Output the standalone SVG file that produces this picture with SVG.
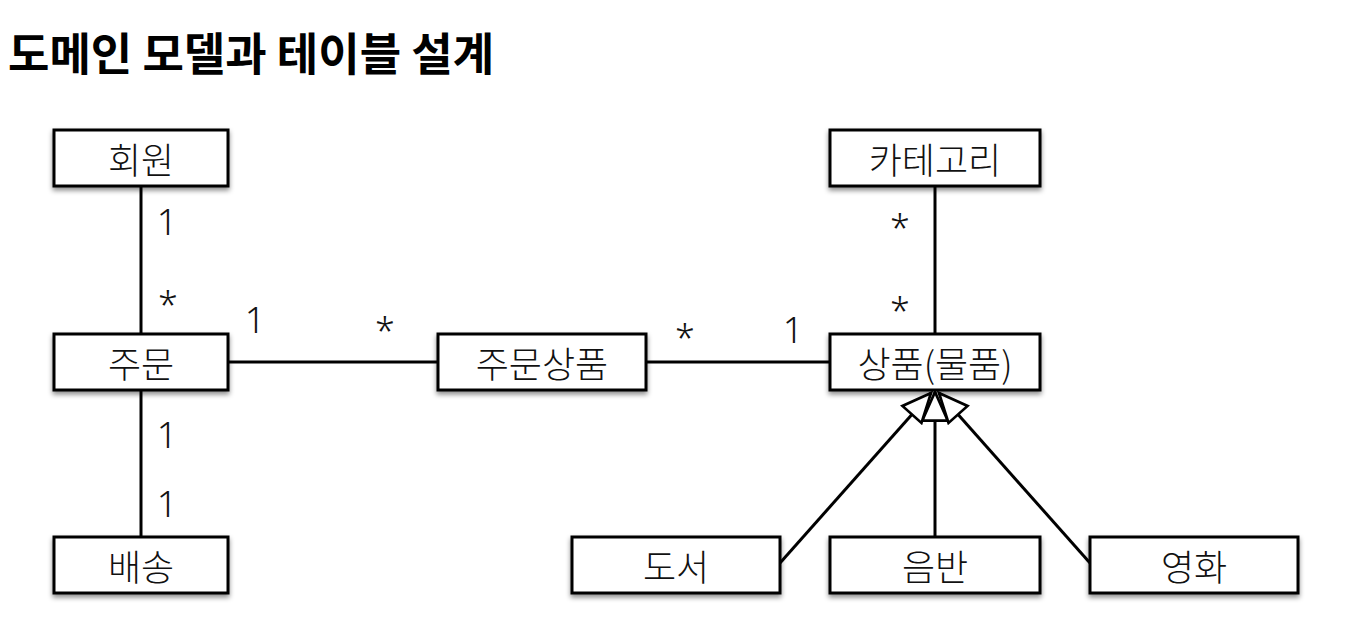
<svg xmlns="http://www.w3.org/2000/svg" width="1358" height="644" viewBox="0 0 1358 644">
<style>
.box rect{fill:#fff;stroke:#000;stroke-width:3;filter:url(#sh)}
.box text{font-family:"Noto Sans CJK KR","Noto Sans",sans-serif;font-size:36px;font-weight:300;fill:#111;text-anchor:middle;dominant-baseline:central}
.lbl{font-family:"Noto Sans","Noto Sans CJK KR",sans-serif;font-size:36px;font-weight:300;fill:#111;text-anchor:middle}
#connectors line{stroke:#000;stroke-width:3;fill:none}
.title{font-family:"Noto Sans CJK KR","Noto Sans",sans-serif;font-size:45px;font-weight:700;fill:#000}
</style>
<defs>
<filter id="sh" x="-10%" y="-20%" width="120%" height="160%">
<feDropShadow dx="0" dy="3" stdDeviation="2.5" flood-color="#000" flood-opacity="0.45"/>
</filter>
<marker id="gen" markerUnits="userSpaceOnUse" markerWidth="34" markerHeight="30" viewBox="-2 -2 32 28" refX="27" refY="12" orient="auto">
<path d="M27,12 L0,0 L0,24 Z" fill="#fff" stroke="#000" stroke-width="2.5" stroke-linejoin="miter"/>
</marker>
</defs>
<rect width="1358" height="644" fill="#fff"/>
<text class="title" x="8" y="71">도메인 모델과 테이블 설계</text>
<g id="connectors">
<line x1="141" y1="186" x2="141" y2="334"/>
<line x1="141" y1="390" x2="141" y2="537"/>
<line x1="228" y1="362" x2="438" y2="362"/>
<line x1="646" y1="362" x2="830" y2="362"/>
<line x1="935" y1="186" x2="935" y2="334"/>
<line x1="935" y1="537" x2="935" y2="392" marker-end="url(#gen)"/>
<line x1="780" y1="563" x2="931" y2="393" marker-end="url(#gen)"/>
<line x1="1090" y1="563" x2="939" y2="393" marker-end="url(#gen)"/>
</g>
<g id="labels">
<text class="lbl" x="167" y="235">1</text>
<text class="lbl" x="168" y="318">*</text>
<text class="lbl" x="255" y="333">1</text>
<text class="lbl" x="385" y="344">*</text>
<text class="lbl" x="685" y="351">*</text>
<text class="lbl" x="793" y="343">1</text>
<text class="lbl" x="900" y="241">*</text>
<text class="lbl" x="900" y="324">*</text>
<text class="lbl" x="167" y="448">1</text>
<text class="lbl" x="167" y="517">1</text>
</g>
<g id="n-member" class="box"><rect x="54" y="130" width="174" height="56"/><text x="141" y="158">회원</text></g>
<g id="n-order" class="box"><rect x="54" y="334" width="174" height="56"/><text x="141" y="362">주문</text></g>
<g id="n-delivery" class="box"><rect x="54" y="537" width="174" height="56"/><text x="141" y="565">배송</text></g>
<g id="n-orderitem" class="box"><rect x="438" y="334" width="208" height="56"/><text x="542" y="362">주문상품</text></g>
<g id="n-category" class="box"><rect x="830" y="130" width="210" height="56"/><text x="935" y="158">카테고리</text></g>
<g id="n-item" class="box"><rect x="830" y="334" width="210" height="56"/><text x="935" y="362">상품(물품)</text></g>
<g id="n-book" class="box"><rect x="572" y="537" width="208" height="56"/><text x="676" y="565">도서</text></g>
<g id="n-album" class="box"><rect x="830" y="537" width="210" height="56"/><text x="935" y="565">음반</text></g>
<g id="n-movie" class="box"><rect x="1090" y="537" width="208" height="56"/><text x="1194" y="565">영화</text></g>
</svg>
